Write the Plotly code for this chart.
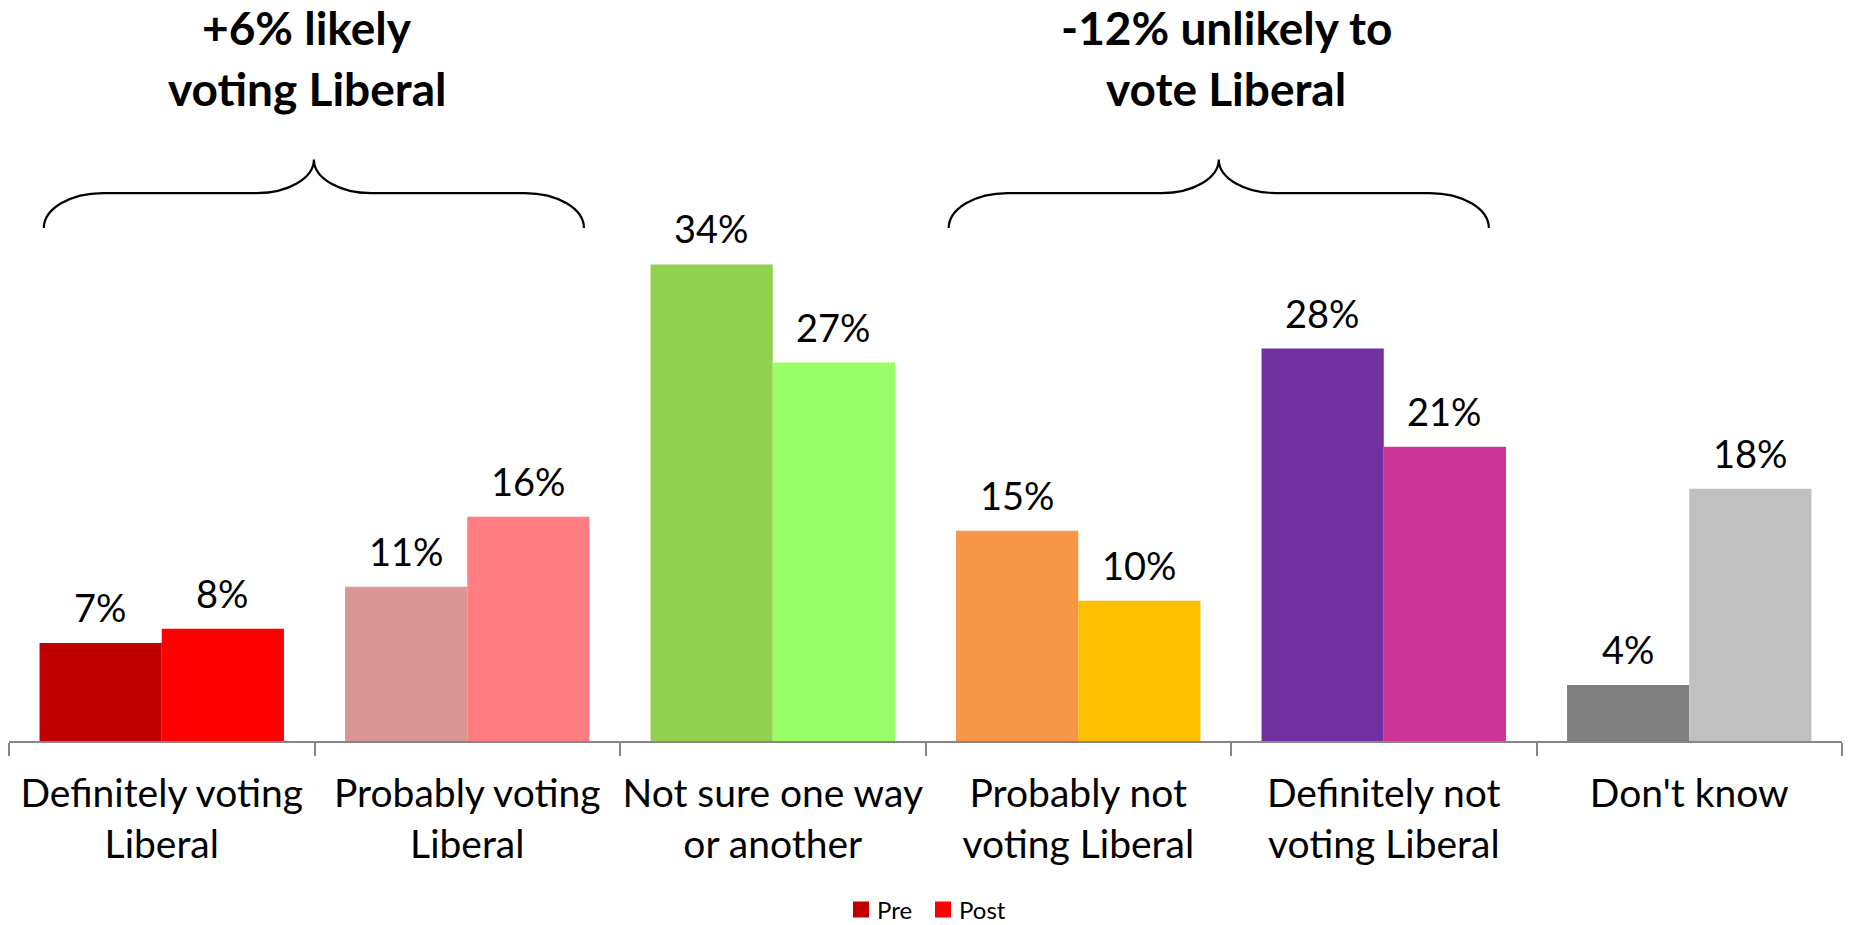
import plotly.graph_objects as go

categories = ["Definitely voting<br>Liberal", "Probably voting<br>Liberal", "Not sure one way<br>or another",
              "Probably not<br>voting Liberal", "Definitely not<br>voting Liberal", "Don't know"]
series_names = ["Pre", "Post"]
pre_values = [7, 11, 34, 15, 28, 4]
post_values = [8, 16, 27, 10, 21, 18]
pre_colors = ["#C00000", "#D99694", "#92D050", "#F79646", "#7030A0", "#808080"]
post_colors = ["#FF0000", "#FF7C80", "#99FF66", "#FFC000", "#CC3399", "#C0C0C0"]
group_titles = [["+6% likely", "voting Liberal"], ["-12% unlikely to", "vote Liberal"]]

# layout constants (category-index units for x, data units for y)
brace_centers = [0.498, 3.46]
title_centers = [0.477, 3.484]

FONT = "Lato"
W, H = 1849, 925
ML, MR = 9, 7
axis_px = 740.6
px_per_pct = 14.01
ymax = axis_px / px_per_pct
plot_w = W - ML - MR


def px_to_paper_x(px):
    return (px - ML) / plot_w


def px_to_paper_y(py):
    return (axis_px - py) / axis_px


fig = go.Figure()
fig.add_trace(go.Bar(name=series_names[0], x=categories, y=pre_values,
                     marker=dict(color=pre_colors, line=dict(width=0))))
fig.add_trace(go.Bar(name=series_names[1], x=categories, y=post_values,
                     marker=dict(color=post_colors, line=dict(width=0))))

annotations = []
for i, (a, b) in enumerate(zip(pre_values, post_values)):
    for off, v in ((-0.2, a), (0.2, b)):
        annotations.append(dict(x=i + off, y=v, xref="x", yref="y", text=f"{v}%", showarrow=False,
                                yanchor="middle", yshift=36, font=dict(family=FONT, size=38, color="black")))

shapes = []
for c, tc, lines in zip(brace_centers, title_centers, group_titles):
    w = 0.884
    y_end, y_flat, y_peak = 36.59, 39.09, 41.49
    dxe, dxc = 0.193, 0.187
    dye, dyc = y_flat - y_end, y_peak - y_flat
    k = 0.552
    x0, x1 = c - w, c + w
    path = (f"M {x0},{y_end} C {x0},{y_end + k*dye} {x0 + dxe - k*dxe},{y_flat} {x0 + dxe},{y_flat} "
            f"L {c - dxc},{y_flat} C {c - dxc + k*dxc},{y_flat} {c},{y_peak - k*dyc} {c},{y_peak} "
            f"C {c},{y_peak - k*dyc} {c + dxc - k*dxc},{y_flat} {c + dxc},{y_flat} "
            f"L {x1 - dxe},{y_flat} C {x1 - dxe + k*dxe},{y_flat} {x1},{y_end + k*dye} {x1},{y_end}")
    shapes.append(dict(type="path", path=path, xref="x", yref="y", line=dict(color="black", width=2.2)))
    for j, line in enumerate(lines):
        annotations.append(dict(x=tc, y=ymax, xref="x", yref="y", text=f"<b>{line}</b>", showarrow=False,
                                yanchor="middle", yshift=-27 - 61 * j,
                                font=dict(family=FONT, size=46, color="black")))

# custom legend (square swatches + labels), colours taken from each series' first bar
legend_swatch_left = [853, 935]
legend_y_center = 909
sw = 16
for name, cols, xl in zip(series_names, [pre_colors, post_colors], legend_swatch_left):
    shapes.append(dict(type="rect", xref="paper", yref="paper",
                       x0=px_to_paper_x(xl), x1=px_to_paper_x(xl + sw),
                       y0=px_to_paper_y(legend_y_center + sw / 2), y1=px_to_paper_y(legend_y_center - sw / 2),
                       fillcolor=cols[0], line=dict(width=0)))
    annotations.append(dict(x=px_to_paper_x(xl + sw + 7), y=px_to_paper_y(legend_y_center), xref="paper",
                            yref="paper", text=name, showarrow=False, xanchor="left", yanchor="middle",
                            borderpad=0, font=dict(family=FONT, size=24, color="black")))

fig.update_layout(
    width=W, height=H,
    margin=dict(l=ML, r=MR, t=0, b=H - axis_px, pad=0, autoexpand=False),
    paper_bgcolor="white", plot_bgcolor="white",
    barmode="group", bargap=0.2, bargroupgap=0,
    font=dict(family=FONT, color="black"),
    showlegend=False,
    xaxis=dict(type="category", range=[-0.5, 5.5], tickson="boundaries", tickangle=0, automargin=False,
               showline=True, linecolor="#868686", linewidth=2, ticks="outside", ticklen=13,
               tickcolor="#868686", tickwidth=2, ticklabelstandoff=17,
               tickfont=dict(family=FONT, size=39, color="black"),
               showgrid=False, zeroline=False),
    yaxis=dict(range=[0, ymax], visible=False, showgrid=False, zeroline=False, automargin=False),
    annotations=annotations, shapes=shapes,
)

fig.write_html("out.html", config={"displayModeBar": False},
               post_script="document.body.style.margin='0';")
